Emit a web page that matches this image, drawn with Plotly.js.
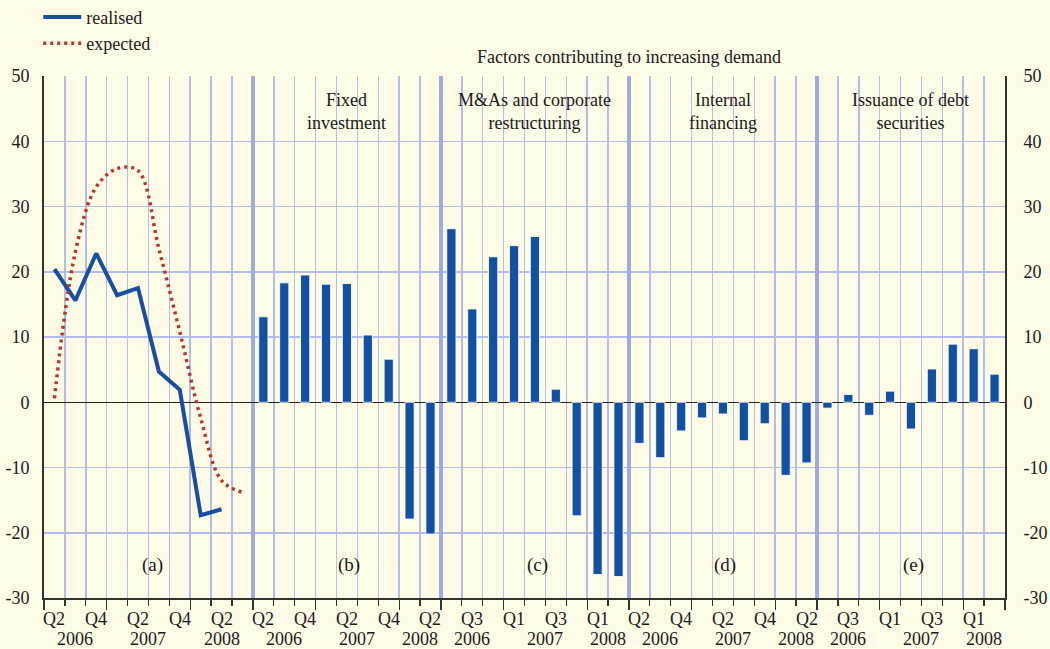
<!DOCTYPE html>
<html>
<head>
<meta charset="utf-8">
<script src="https://cdn.plot.ly/plotly-3.0.1.min.js"></script>
<style>
  html, body { margin: 0; padding: 0; background: #fdfbe6; }
  #chart { width: 1050px; height: 649px; }
</style>
</head>
<body>
<div id="chart"></div>
<script>
// ---------------- DATA ----------------
const quartersA = ['Q2 2006','Q3 2006','Q4 2006','Q1 2007','Q2 2007','Q3 2007','Q4 2007','Q1 2008','Q2 2008','Q3 2008'];
const quartersBars = ['Q2 2006','Q3 2006','Q4 2006','Q1 2007','Q2 2007','Q3 2007','Q4 2007','Q1 2008','Q2 2008'];

// Panel (a): overall demand
const realised = [20.4, 15.6, 22.8, 16.4, 17.5, 4.7, 1.9, -17.3, -16.4];
const expected = [0.6, 23.0, 33.0, 35.8, 35.5, 23.5, 10.8, -2.4, -12.0, -13.8];

// Panels (b)-(e): factors contributing to increasing demand
const fixedInvestment = [13.1, 18.3, 19.5, 18.1, 18.2, 10.3, 6.6, -17.9, -20.2];
const mergersRestructuring = [26.6, 14.3, 22.3, 24.0, 25.4, 2.0, -17.4, -26.4, -26.7];
const internalFinancing = [-6.3, -8.5, -4.4, -2.4, -1.8, -5.9, -3.3, -11.2, -9.3];
const debtIssuance = [-0.9, 1.2, -2.0, 1.7, -4.1, 5.1, 8.9, 8.2, 4.3];

const panelLetters = ['(a)', '(b)', '(c)', '(d)', '(e)'];
const panelTitles = ['', 'Fixed<br>investment', 'M&As and corporate<br>restructuring', 'Internal<br>financing', 'Issuance of debt<br>securities'];
const panelQuarters = [quartersA, quartersBars, quartersBars, quartersBars, quartersBars];
const panelLabelStart = [0, 0, 1, 0, 1];   // first labelled quarter in each panel (every other one labelled)
const groupTitle = 'Factors contributing to increasing demand';
const yTicks = [-30, -20, -10, 0, 10, 20, 30, 40, 50];
const yTickLabels = ['-30', '-20', '-10', '0', '10', '20', '30', '40', '50'];

// ---------------- BUILD ----------------
const FONT = 'Liberation Serif, Times New Roman, serif';
const FS = 18;
const TXT = '#1a1a1a';

// slot offsets of each panel
const offsets = [];
let acc = 0;
panelQuarters.forEach(q => { offsets.push(acc); acc += q.length; });
const totalSlots = acc;

const xs = (p, n) => Array.from({length: n}, (_, i) => offsets[p] + i + 0.5);

const traces = [];
traces.push({
  x: xs(0, realised.length), y: realised, type: 'scatter', mode: 'lines', name: 'realised',
  line: {color: '#1a4e9e', width: 4}
});
traces.push({
  x: xs(0, expected.length), y: expected, type: 'scatter', mode: 'lines', name: 'expected',
  line: {color: '#b0392e', width: 3.5, dash: '3px,4px', shape: 'spline', smoothing: 1}
});
[fixedInvestment, mergersRestructuring, internalFinancing, debtIssuance].forEach((vals, k) => {
  traces.push({
    x: xs(k + 1, vals.length), y: vals, type: 'bar', width: 0.44, showlegend: false,
    marker: {color: '#1450a0', line: {color: 'rgba(255,255,255,0.85)', width: 1}},
    hoverinfo: 'y'
  });
});
// invisible helper traces for the overlaying axes
['x2', 'x3', 'x4'].forEach(ax => traces.push({x: [], y: [], xaxis: ax, yaxis: 'y', showlegend: false, hoverinfo: 'skip'}));
traces.push({x: [], y: [], xaxis: 'x', yaxis: 'y2', showlegend: false, hoverinfo: 'skip'});

// tick positions
const boundaries = [];
const yearBounds = [];
panelQuarters.forEach((q, p) => {
  q.forEach((lab, i) => {
    const b = offsets[p] + i;
    boundaries.push(b);
    if (i === 0 || lab.startsWith('Q1')) yearBounds.push(b);
  });
});
boundaries.push(totalSlots);
yearBounds.push(totalSlots);
const separators = offsets.slice(1);

const annotations = [];
panelQuarters.forEach((q, p) => {
  // quarter labels
  for (let i = panelLabelStart[p]; i < q.length; i += 2) {
    annotations.push({
      x: offsets[p] + i + 0.5, xref: 'x', y: 0, yref: 'paper', yshift: -21,
      text: q[i].split(' ')[0], showarrow: false, yanchor: 'middle',
      font: {family: FONT, size: FS, color: TXT}
    });
  }
  // year labels centred on the quarters of each year
  const years = {};
  q.forEach((lab, i) => {
    const yr = lab.split(' ')[1];
    (years[yr] = years[yr] || []).push(offsets[p] + i + 0.5);
  });
  Object.keys(years).forEach(yr => {
    const arr = years[yr];
    annotations.push({
      x: arr.reduce((s, v) => s + v, 0) / arr.length, xref: 'x', y: 0, yref: 'paper', yshift: -41,
      text: yr, showarrow: false, yanchor: 'middle',
      font: {family: FONT, size: FS, color: TXT}
    });
  });
  // panel letters
  annotations.push({
    x: offsets[p] + q.length / 2 + (p === 0 ? 0.2 : 0.1), xref: 'x', y: -25, yref: 'y',
    text: panelLetters[p], showarrow: false, yanchor: 'middle',
    font: {family: FONT, size: 19, color: TXT}
  });
  if (panelTitles[p]) {
    annotations.push({
      x: offsets[p] + q.length / 2, xref: 'x', y: 48.1, yref: 'y',
      text: panelTitles[p], showarrow: false, yanchor: 'top',
      font: {family: FONT, size: FS, color: TXT}
    });
  }
});
annotations.push({
  x: (offsets[1] + totalSlots) / 2, xref: 'x', y: 1, yref: 'paper', yshift: 19,
  text: groupTitle, showarrow: false, yanchor: 'middle',
  font: {family: FONT, size: FS, color: TXT}
});

const gridBlue = '#b3bde8';
const layout = {
  width: 1050, height: 649,
  paper_bgcolor: '#fdfbe6', plot_bgcolor: '#fdfbe6',
  margin: {l: 44, r: 45, t: 76, b: 51, pad: 0, autoexpand: false},
  font: {family: FONT, size: FS, color: TXT},
  bargap: 0,
  showlegend: true,
  legend: {
    x: -0.006, xanchor: 'left', y: 1.148, yanchor: 'top',
    bgcolor: 'rgba(0,0,0,0)', font: {family: FONT, size: FS, color: TXT},
    tracegroupgap: 0, itemwidth: 38
  },
  xaxis: {
    range: [0, totalSlots], fixedrange: true,
    tickmode: 'array', tickvals: boundaries, ticks: 'outside', ticklen: 6, tickwidth: 1.3, tickcolor: '#333',
    showticklabels: false, showgrid: true, gridcolor: gridBlue, gridwidth: 1.5,
    showline: true, linecolor: '#333', linewidth: 1.5, zeroline: false
  },
  xaxis2: {
    overlaying: 'x', anchor: 'y', range: [0, totalSlots], fixedrange: true,
    tickmode: 'array', tickvals: yearBounds, ticks: 'outside', ticklen: 11, tickwidth: 1.3, tickcolor: '#333',
    showticklabels: false, showgrid: false, zeroline: false, showline: false
  },
  xaxis3: {
    overlaying: 'x', anchor: 'y', range: [0, totalSlots], fixedrange: true,
    tickmode: 'array', tickvals: separators, ticks: '', showticklabels: false,
    showgrid: true, gridcolor: '#9eacdf', gridwidth: 3.5, zeroline: false, showline: false
  },
  xaxis4: {
    overlaying: 'x', anchor: 'y', range: [0, totalSlots], fixedrange: true,
    tickmode: 'array', tickvals: [0, totalSlots], ticks: '', showticklabels: false,
    showgrid: false, zeroline: false, showline: false
  },
  yaxis: {
    range: [-30, 50], fixedrange: true, tickmode: 'array', tickvals: yTicks, ticktext: yTickLabels,
    ticks: '', ticklabelstandoff: 9, showgrid: true, gridcolor: gridBlue, gridwidth: 1.5,
    zeroline: true, zerolinecolor: '#222', zerolinewidth: 1.5,
    showline: true, linecolor: '#333', linewidth: 2,
    tickfont: {family: FONT, size: FS, color: TXT}
  },
  yaxis2: {
    overlaying: 'y', side: 'right', anchor: 'x', range: [-30, 50], fixedrange: true,
    tickmode: 'array', tickvals: yTicks, ticktext: yTickLabels, ticks: '', ticklabelstandoff: 13,
    showgrid: false, zeroline: false, showline: true, linecolor: '#333', linewidth: 2,
    tickfont: {family: FONT, size: FS, color: TXT}
  },
  annotations: annotations
};

Plotly.newPlot('chart', traces, layout, {displayModeBar: false, staticPlot: true});
</script>
</body>
</html>
